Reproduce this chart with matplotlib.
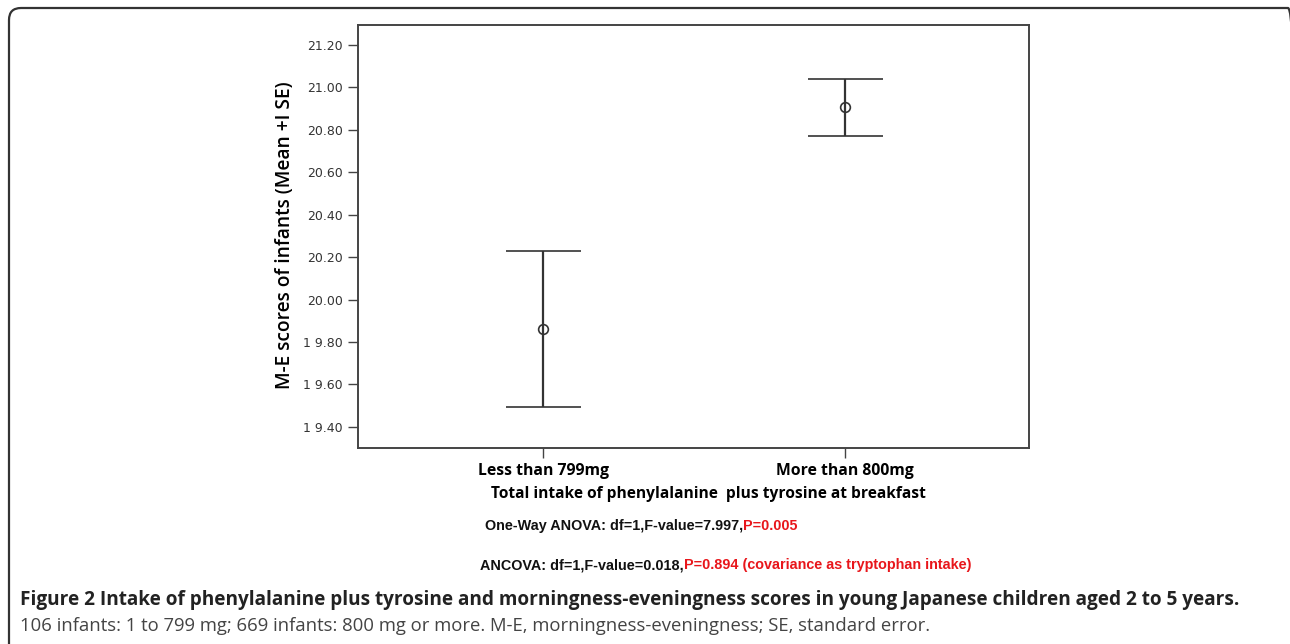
import matplotlib
matplotlib.use("Agg")
import matplotlib.pyplot as plt
from matplotlib.patches import FancyBboxPatch
from matplotlib.transforms import IdentityTransform

# data
groups = ["Less than 799mg", "More than 800mg"]
means = [19.86, 20.906]
se = [0.367, 0.133]
yticks = [19.40, 19.60, 19.80, 20.00, 20.20, 20.40, 20.60, 20.80, 21.00, 21.20]
ytick_labels = ["1 9.40", "1 9.60", "1 9.80", "20.00", "20.20",
                "20.40", "20.60", "20.80", "21.00", "21.20"]

W, H = 1290, 644
fig = plt.figure(figsize=(W / 100, H / 100), dpi=100)

def fx(px):
    return px / W

def fy(py):
    return 1 - py / H

# outer rounded frame in pixels (right and bottom edges run off the image)
frame = FancyBboxPatch((9, -20), 1300 - 9, H - 8 + 20,
                       boxstyle="round,pad=0,rounding_size=12",
                       transform=IdentityTransform(), fill=False,
                       ec="#333333", lw=1.6, clip_on=False)
fig.patches.append(frame)

ax = fig.add_axes([fx(358), fy(448), fx(1029 - 358), (448 - 25) / H])
x = list(range(len(groups)))
ax.errorbar(x, means, yerr=se, fmt="o", mfc="none", mec="#333333", ms=7,
            mew=1.2, ecolor="#333333", elinewidth=1.6, capsize=27,
            capthick=1.4)
ax.set_xlim(-0.613, 1.609)
ax.set_ylim(19.30, 21.294)
ax.set_yticks(yticks)
ax.set_yticklabels(ytick_labels, fontsize=9, color="#333333")
ax.set_xticks(x)
ax.set_xticklabels(groups, fontsize=11.3, fontweight="bold",
                   family=["Open Sans", "DejaVu Sans"])
ax.tick_params(axis="y", length=7, width=1, color="#444444", pad=4)
ax.tick_params(axis="x", length=7, width=1, color="#444444", pad=4)
for s in ax.spines.values():
    s.set_color("#444444")
    s.set_linewidth(1.4)

fig.text(fx(285), fy(235), "M-E scores of infants (Mean +I SE)", rotation=90,
         ha="center", va="center", fontsize=13.8, fontweight="semibold",
         family=["Open Sans", "DejaVu Sans"])
fig.text(fx(708), fy(494),
         "Total intake of phenylalanine  plus tyrosine at breakfast",
         ha="center", va="center", fontsize=11.2, fontweight="bold",
         family=["Open Sans", "DejaVu Sans"])

renderer = fig.canvas.get_renderer()

def mixed(px, py, parts, size):
    # draw text pieces one after another on the same baseline
    xpos = px
    for txt, col in parts:
        t = fig.text(fx(xpos), fy(py), txt, ha="left", va="baseline",
                     fontsize=size, fontweight="bold", color=col,
                     family=["Liberation Sans"])
        bb = t.get_window_extent(renderer)
        xpos += bb.width

mixed(485, 530, [("One-Way ANOVA: df=1,F-value=7.997,", "#111111"),
                 ("P=0.005", "#e8161b")], 10.4)
mixed(480, 569, [("ANCOVA: df=1,F-value=0.018,", "#111111"),
                 ("P=0.894 (covariance as tryptophan intake)", "#e8161b")],
      10.4)

fig.text(fx(20), fy(600),
         "Figure 2 Intake of phenylalanine plus tyrosine and morningness-eveningness "
         "scores in young Japanese children aged 2 to 5 years.",
         ha="left", va="center", fontsize=13.7, fontweight="bold",
         color="#222222", family=["Open Sans", "DejaVu Sans"])
fig.text(fx(20), fy(626),
         "106 infants: 1 to 799 mg; 669 infants: 800 mg or more. M-E, "
         "morningness-eveningness; SE, standard error.",
         ha="left", va="center", fontsize=13.3, color="#444444",
         family=["Open Sans", "DejaVu Sans"])

fig.savefig("out.png", dpi=100)
